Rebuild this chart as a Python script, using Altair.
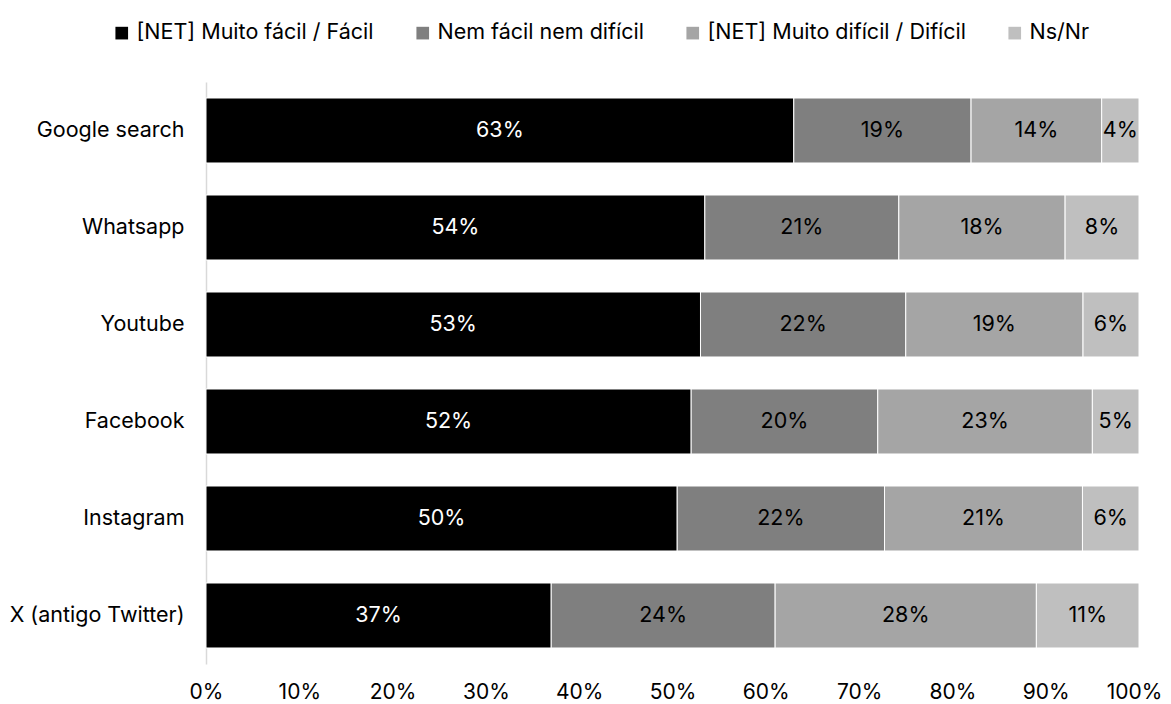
import altair as alt
import pandas as pd

platforms = ["Google search", "Whatsapp", "Youtube", "Facebook", "Instagram", "X (antigo Twitter)"]
categories = ["[NET] Muito fácil / Fácil", "Nem fácil nem difícil", "[NET] Muito difícil / Difícil", "Ns/Nr"]
facil = [63, 54, 53, 52, 50, 37]
nem = [19, 21, 22, 20, 22, 24]
dificil = [14, 18, 19, 23, 21, 28]
nsnr = [4, 8, 6, 5, 6, 11]
colors = ["#000000", "#7f7f7f", "#a5a5a5", "#bfbfbf"]
text_colors = ["#ffffff", "#000000", "#000000", "#000000"]

rows = []
series = [facil, nem, dificil, nsnr]
for i, p in enumerate(platforms):
    for j, c in enumerate(categories):
        rows.append({"platform": p, "category": c, "order": j,
                     "value": series[j][i], "label": f"{series[j][i]}%",
                     "tcolor": text_colors[j]})
df = pd.DataFrame(rows)

FONT = "Inter"
FS = 21.5

base = alt.Chart(df).transform_joinaggregate(
    total="sum(value)", groupby=["platform"]
).transform_calculate(
    pct="datum.value / datum.total"
).transform_stack(
    stack="pct", groupby=["platform"], as_=["start", "end"],
    sort=[alt.SortField("order", order="ascending")]
).transform_calculate(
    mid="(datum.start + datum.end) / 2"
)

y_enc = alt.Y("platform:N", sort=platforms, title=None,
              scale=alt.Scale(paddingInner=0.33, paddingOuter=0.165),
              axis=alt.Axis(ticks=False, domain=True, domainColor="#d9d9d9",
                            domainWidth=1.5, labelFontSize=FS, labelFont=FONT,
                            labelColor="#000000", labelPadding=22, labelLimit=0))

bars = base.mark_bar(stroke="#ffffff", strokeWidth=1).encode(
    x=alt.X("start:Q", title=None,
            scale=alt.Scale(domain=[0, 1], nice=False),
            axis=alt.Axis(format="%", values=[i / 10 for i in range(11)],
                          ticks=False, domain=False, grid=False,
                          labelFlush=False, labelOverlap=False,
                          labelOffset={"condition": {"test": "datum.value >= 0.99", "value": -5}, "value": 0},
                          labelFontSize=21, labelFont=FONT, labelColor="#000000",
                          labelPadding=17)),
    x2="end:Q",
    y=y_enc,
    color=alt.Color("category:N", sort=categories,
                    scale=alt.Scale(domain=categories, range=colors),
                    legend=alt.Legend(title=None, orient="none", direction="horizontal",
                                      legendX=-95, legendY=-60,
                                      symbolType="square", symbolSize=160,
                                      symbolStrokeWidth=0, labelFontSize=FS,
                                      labelFont=FONT, labelColor="#000000",
                                      labelLimit=0,
                                      columnPadding=38, labelOffset=4)),
)

texts = base.mark_text(fontSize=FS, font=FONT).encode(
    x="mid:Q",
    y=alt.Y("platform:N", sort=platforms),
    text="label:N",
    color=alt.Color("tcolor:N", scale=None, legend=None),
)

chart = alt.layer(bars, texts).properties(
    width=933, height=582,
    autosize=alt.AutoSizeParams(type="none"),
    padding={"left": 198, "top": 74, "right": 24, "bottom": 38},
).configure_view(stroke=None)

chart.save("out.html", embed_options={"renderer": "svg", "actions": False})
